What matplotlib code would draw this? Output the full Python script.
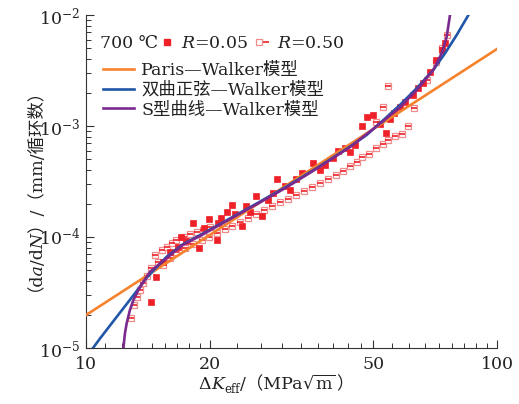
import numpy as np
import matplotlib
matplotlib.use("Agg")
import matplotlib.pyplot as plt
from matplotlib.lines import Line2D
from matplotlib.legend_handler import HandlerTuple
from matplotlib.ticker import FixedLocator, NullFormatter
from matplotlib.transforms import IdentityTransform

FAM = ['DejaVu Serif', 'STIXGeneral', 'Noto Sans CJK SC']
plt.rcParams['font.family'] = FAM
plt.rcParams['mathtext.fontset'] = 'dejavuserif'

# ---------------- data ----------------
# R = 0.05 (filled squares)
k_r005 = [14.4, 14.8, 15.4, 16.0, 16.7, 17.0, 17.5, 18.2, 18.8, 19.4, 19.9, 20.8, 21.0,
          21.3, 22.0, 22.6, 23.0, 23.9, 24.5, 25.1, 25.9, 26.8, 27.7, 28.5, 29.2, 30.5,
          31.3, 32.5, 33.5, 35.7, 37.0, 38.2, 40.0, 41.1, 42.7, 44.0, 45.1, 46.9, 48.3,
          50.0, 52.0, 53.6, 55.0, 56.0, 58.1, 59.7, 62.6, 64.4, 66.2, 68.7, 71.1, 73.4,
          74.7]
v_r005 = [2.59e-5, 4.32e-5, 5.96e-5, 7.33e-5, 8.13e-5, 1.0e-4, 9.2e-5, 1.34e-4, 8.04e-5,
          1.2e-4, 1.45e-4, 9.4e-5, 1.35e-4, 1.48e-4, 1.69e-4, 1.94e-4, 1.6e-4, 1.26e-4,
          1.9e-4, 1.68e-4, 2.34e-4, 1.55e-4, 2.16e-4, 2.5e-4, 3.31e-4, 2.88e-4, 2.65e-4,
          3.3e-4, 3.75e-4, 4.68e-4, 4.0e-4, 4.46e-4, 5.2e-4, 5.95e-4, 6.3e-4, 5.8e-4,
          6.75e-4, 9.9e-4, 1.21e-3, 1.26e-3, 1.05e-3, 8.6e-4, 1.15e-3, 1.3e-3, 1.49e-3,
          1.66e-3, 1.90e-3, 2.19e-3, 2.43e-3, 3.08e-3, 3.93e-3, 4.84e-3, 5.6e-3]

# R = 0.50 (half-filled squares)
k_r050 = [12.9, 13.1, 13.3, 13.5, 13.8, 14.1, 14.4, 14.7, 15.0, 15.3, 15.7, 16.2, 16.6,
          17.3, 17.9, 18.6, 19.3, 20.0, 15.4, 16.0, 16.6, 17.4, 18.2, 19.1, 19.9, 20.8,
          21.8, 22.6, 23.7, 24.8, 25.9, 27.1, 28.4, 29.7, 31.0, 32.4, 33.9, 35.5, 37.1,
          38.8, 40.6, 42.2, 43.9, 45.6, 46.9, 48.7, 50.8, 52.7, 54.4, 56.5, 58.7, 60.9,
          62.8, 54.4, 52.7, 50.9, 67.5, 71.1, 73.5, 75.5]
v_r050 = [1.86e-5, 2.44e-5, 2.9e-5, 3.33e-5, 3.87e-5, 4.46e-5, 5.26e-5, 6.89e-5, 5.96e-5,
          7.64e-5, 8.18e-5, 8.89e-5, 9.4e-5, 1.01e-4, 1.06e-4, 1.12e-4, 1.16e-4, 1.23e-4,
          5.6e-5, 6.47e-5, 7.33e-5, 7.96e-5, 8.65e-5, 9.4e-5, 1.0e-4, 1.09e-4, 1.18e-4,
          1.26e-4, 1.36e-4, 1.48e-4, 1.61e-4, 1.75e-4, 1.9e-4, 2.07e-4, 2.2e-4, 2.39e-4,
          2.59e-4, 2.82e-4, 3.06e-4, 3.33e-4, 3.62e-4, 3.97e-4, 4.36e-4, 4.77e-4, 5.22e-4,
          5.6e-4, 6.3e-4, 6.89e-4, 7.48e-4, 8.2e-4, 8.47e-4, 1.0e-3, 1.44e-3, 2.29e-3,
          1.49e-3, 1.09e-3, 2.6e-3, 3.78e-3, 5.04e-3, 6.6e-3]

# Paris-Walker model
k_paris = [10.0, 100.0]
v_paris = [1.98e-5, 4.94e-3]

# hyperbolic sine - Walker model
k_sinh = [10.40, 10.82, 11.88, 13.04, 14.05, 15.72, 17.2, 18.94, 22.41, 26.0, 30.7, 36.5,
          43.88, 48.19, 52.90, 58.08, 63.77, 69.98, 74.74, 79.8, 85.2]
v_sinh = [1.0e-5, 1.22e-5, 1.91e-5, 2.98e-5, 4.3e-5, 6.65e-5, 8.6e-5, 1.04e-4, 1.47e-4,
          2.0e-4, 2.84e-4, 4.2e-4, 6.52e-4, 8.30e-4, 1.13e-3, 1.55e-3, 2.19e-3, 3.20e-3,
          4.52e-3, 6.61e-3, 1.0e-2]

# S-curve - Walker model
k_scurve = [12.33, 12.44, 12.56, 12.79, 13.04, 13.41, 13.79, 14.31, 15.72, 17.2, 18.94,
            22.41, 26.0, 30.7, 36.5, 43.88, 52.9, 58.08, 63.77, 69.98, 73.38, 75.45, 76.85]
v_scurve = [1.0e-5, 1.36e-5, 1.67e-5, 2.20e-5, 2.70e-5, 3.33e-5, 3.95e-5, 4.86e-5, 6.46e-5,
            8.5e-5, 1.02e-4, 1.45e-4, 1.97e-4, 2.79e-4, 4.15e-4, 6.46e-4, 1.11e-3, 1.48e-3,
            2.11e-3, 3.20e-3, 4.52e-3, 6.38e-3, 1.0e-2]

x_major = [10, 20, 50, 100]
x_labels = ['10', '20', '50', '100']
y_major = [1e-5, 1e-4, 1e-3, 1e-2]
y_labels = [r'$10^{-5}$', r'$10^{-4}$', r'$10^{-3}$', r'$10^{-2}$']

labels_series = [r'$R$=0.05', r'$R$=0.50']
labels_models = ['Paris—Walker模型', '双曲正弦—Walker模型', 'S型曲线—Walker模型']
y_title = '（d\U0001D44E/d\U0001D441）/（mm/循环数）'

# ---------------- style ----------------
c_red = '#ee2128'
c_pink = '#f08c8c'
c_orange = '#f7822d'
c_blue = '#2156a8'
c_purple = '#7a2a8e'
c_text = '#222222'
fs = 12.5

fig = plt.figure(figsize=(5.19, 4.04), dpi=100)
ax = fig.add_axes([86/519, 1 - 348/404, 411/519, 333/404])

ms = 5.0
ax.plot(k_r050, v_r050, ls='none', marker='s', ms=ms, mfc='white', mec=c_pink, mew=0.9, zorder=3)
ax.plot(k_r050, v_r050, ls='none', marker='_', ms=ms, mec=c_red, mew=1.2, zorder=3)
ax.plot(k_r005, v_r005, ls='none', marker='s', ms=ms, mfc=c_red, mec=c_red, mew=0.5, zorder=4)

lw = 1.9
ax.plot(k_paris, v_paris, color=c_orange, lw=lw, zorder=5)
ax.plot(k_sinh, v_sinh, color=c_blue, lw=lw, zorder=6)
ax.plot(k_scurve, v_scurve, color=c_purple, lw=lw, zorder=7)

ax.set_xscale('log')
ax.set_yscale('log')
ax.set_xlim(10, 100)
ax.set_ylim(1e-5, 1e-2)

ax.xaxis.set_major_locator(FixedLocator(x_major))
ax.set_xticklabels(x_labels)
xminor = []
for a, b in zip(x_major[:-1], x_major[1:]):
    xminor += list(np.linspace(a, b, 10)[1:-1])
ax.xaxis.set_minor_locator(FixedLocator(xminor))
ax.xaxis.set_minor_formatter(NullFormatter())

ax.yaxis.set_major_locator(FixedLocator(y_major))
ax.set_yticklabels(y_labels)
yminor = [m * 10.0**e for e in (-5, -4, -3) for m in range(2, 10)]
ax.yaxis.set_minor_locator(FixedLocator(yminor))
ax.yaxis.set_minor_formatter(NullFormatter())

for s in ('top', 'right'):
    ax.spines[s].set_visible(False)
for s in ('left', 'bottom'):
    ax.spines[s].set_color('#333333')
    ax.spines[s].set_linewidth(0.8)
ax.tick_params(which='both', direction='in', colors='#333333', labelcolor=c_text, labelsize=fs)
ax.tick_params(which='major', length=6, width=0.8)
ax.tick_params(axis='x', which='major', pad=6)
ax.tick_params(axis='y', which='major', pad=4)
ax.tick_params(which='minor', length=3.5, width=0.7)

H = 404
# ---------- y label (single text, math-italic letters), baseline anchored ----------
fig.text(31, H - 181, y_title, transform=IdentityTransform(), rotation=90,
         rotation_mode='anchor', ha='center', va='baseline',
         fontsize=fs, color=c_text, family=FAM)

# ---------- x label composed from pieces ----------
renderer = fig.canvas.get_renderer()
xlabel_pieces = [('Δ', {}), ('K', {'style': 'italic'}), ('eff', {'size': 8.5, 'shift': -4}),
                 ('/（MPa', {}), (r'$\sqrt{\mathrm{m}}$', {}), ('）', {})]
placed = []
pos = 0.0
for t, p in xlabel_pieces:
    txt = fig.text(pos, H - 389 + p.get('shift', 0), t, transform=IdentityTransform(),
                   ha='left', va='baseline', fontsize=p.get('size', fs),
                   fontstyle=p.get('style', 'normal'), family=FAM, color=c_text)
    bb = txt.get_window_extent(renderer)
    pos += bb.width
    placed.append(txt)
start = 276 - pos / 2
for txt in placed:
    x0, y0 = txt.get_position()
    txt.set_position((x0 + start, y0))

# ---------- legend ----------
ax.text(0.034, 0.913, '700 ℃', transform=ax.transAxes, fontsize=fs, va='center', ha='left', color=c_text)
h1 = Line2D([], [], ls='none', marker='s', ms=ms, mfc=c_red, mec=c_red)
h2a = Line2D([], [], ls='none', marker='s', ms=ms, mfc='white', mec=c_pink, mew=0.9)
h2b = Line2D([], [], ls='none', marker='_', ms=ms, mec=c_red, mew=1.2)
leg1 = ax.legend([h1, (h2a, h2b)], labels_series, ncol=2, loc='center left',
                 bbox_to_anchor=(0.18, 0.913), frameon=False, fontsize=fs,
                 handlelength=0.8, handletextpad=0.4, columnspacing=0.45, borderpad=0,
                 borderaxespad=0, handler_map={tuple: HandlerTuple(ndivide=None)})
for t in leg1.get_texts():
    t.set_color(c_text)
ax.add_artist(leg1)

hl = [Line2D([], [], color=c, lw=lw) for c in (c_orange, c_blue, c_purple)]
leg2 = ax.legend(hl, labels_models, loc='upper left', bbox_to_anchor=(0.041, 0.858),
                 frameon=False, fontsize=fs, handlelength=1.8, handletextpad=0.4,
                 labelspacing=0.15, borderpad=0, borderaxespad=0)
for t in leg2.get_texts():
    t.set_color(c_text)

fig.savefig('out.png', dpi=100)
